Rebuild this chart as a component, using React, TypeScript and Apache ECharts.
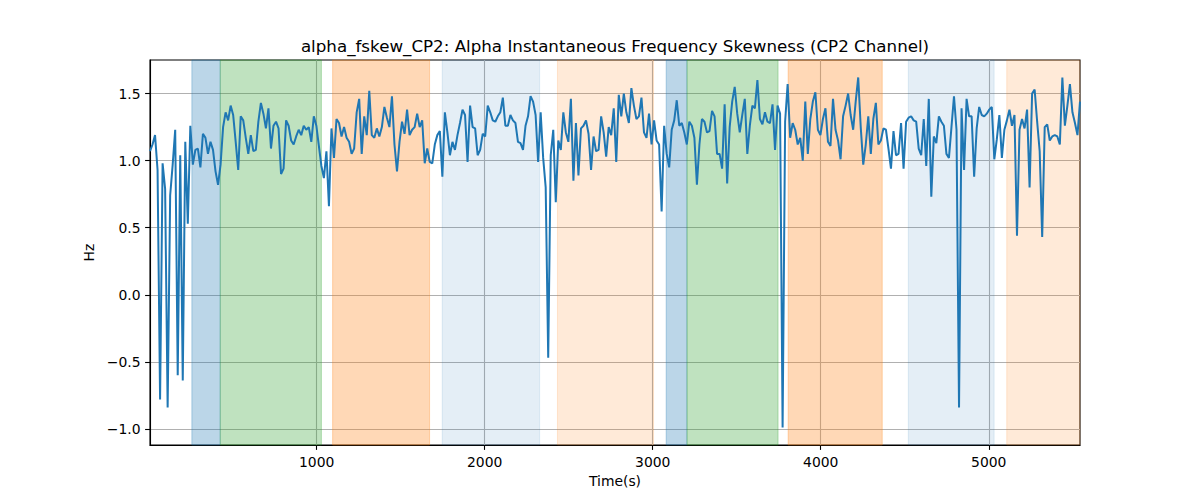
import React, { useEffect, useRef } from 'react';
import * as echarts from 'echarts';

const TITLE = 'alpha_fskew_CP2: Alpha Instantaneous Frequency Skewness (CP2 Channel)';

// samples are taken every DT seconds starting at T0
const T0 = 8;
const DT = 15;

const skewValues: number[] = [
  1.07, 1.12, 1.19, 0.93, -0.78, 0.98, 0.79, -0.84, 0.74, 0.97,
  1.23, -0.6, 1.04, -0.64, 1.14, 0.53, 1.26, 0.97, 1.08, 1.09,
  0.95, 1.2, 1.17, 1.05, 1.14, 1.08, 0.92, 0.82, 0.97, 1.25,
  1.36, 1.3, 1.41, 1.34, 1.14, 0.93, 1.33, 1.3, 1.17, 1.05,
  1.19, 1.07, 1.08, 1.29, 1.43, 1.35, 1.24, 1.39, 1.09, 1.26,
  1.29, 1.24, 0.9, 0.94, 1.3, 1.26, 1.15, 1.12, 1.18, 1.23,
  1.19, 1.26, 1.23, 1.25, 1.14, 1.33, 1.26, 1.11, 0.96, 0.87,
  1.07, 0.66, 1.24, 1.02, 1.31, 1.28, 1.18, 1.25, 1.17, 1.14,
  1.05, 1.09, 1.36, 1.46, 1.05, 1.33, 1.19, 1.52, 1.19, 1.17,
  1.24, 1.18, 1.25, 1.4, 1.32, 1.25, 1.48, 1.12, 0.92, 1.14,
  1.29, 1.2, 1.38, 1.19, 1.23, 1.25, 1.35, 1.25, 1.3, 0.98,
  1.09, 0.99, 0.98, 1.12, 1.19, 1.22, 0.88, 1.36, 1.21, 1.04,
  1.14, 1.08, 1.19, 1.28, 1.38, 1.34, 0.99, 1.41, 1.25, 1.24,
  1.04, 1.08, 1.2, 1.18, 1.41, 1.36, 1.3, 1.29, 1.33, 1.36,
  1.47, 1.26, 1.26, 1.34, 1.3, 1.28, 1.14, 1.13, 1.08, 1.26,
  1.33, 1.48, 1.44, 1.34, 0.99, 1.36, 1.02, 0.8, -0.47, 1.04,
  1.23, 0.69, 1.15, 1.08, 1.36, 1.21, 1.14, 1.46, 0.85, 1.28,
  0.89, 1.24, 1.26, 1.3, 1.2, 0.93, 1.18, 1.07, 1.08, 1.33,
  1.21, 1.03, 1.25, 1.19, 1.39, 0.99, 1.49, 1.33, 1.5, 1.36,
  1.28, 1.54, 1.41, 1.31, 1.33, 1.47, 1.21, 1.17, 1.35, 1.12,
  1.3, 1.15, 1.12, 0.62, 1.26, 1.05, 0.95, 1.23, 1.3, 1.45,
  1.26, 1.28, 1.21, 1.12, 1.29, 1.26, 1.17, 0.82, 1.12, 1.31,
  1.29, 1.21, 1.22, 1.37, 1.33, 1.05, 1.05, 0.94, 1.42, 0.83,
  1.25, 1.44, 1.55, 1.35, 1.21, 1.34, 1.46, 1.05, 1.26, 1.41,
  1.39, 1.6, 1.31, 1.27, 1.36, 1.29, 1.28, 1.42, 1.08, 1.41,
  1.35, -0.99, 1.29, 1.57, 1.17, 1.28, 1.23, 1.12, 1.17, 1.0,
  1.44, 1.05, 1.31, 1.44, 1.51, 1.23, 1.19, 1.31, 1.39, 1.14,
  1.11, 1.46, 1.23, 1.15, 1.01, 1.33, 1.41, 1.5, 1.34, 1.23,
  1.44, 1.62, 1.25, 0.97, 1.12, 1.33, 1.05, 1.31, 1.43, 1.12,
  1.15, 1.24, 1.23, 1.09, 0.94, 1.22, 1.04, 1.05, 1.28, 0.94,
  1.29, 1.32, 1.33, 1.3, 1.29, 1.09, 1.04, 1.31, 0.96, 1.46,
  0.73, 1.18, 1.13, 1.33, 1.29, 1.26, 1.05, 1.02, 1.25, 1.48,
  1.23, -0.84, 1.39, 0.93, 1.46, 1.33, 1.33, 0.88, 1.24, 1.4,
  1.34, 1.33, 1.35, 1.38, 1.4, 1.01, 1.16, 1.34, 1.02, 1.23,
  1.3, 1.38, 1.26, 1.34, 0.44, 1.23, 1.31, 1.24, 1.38, 0.8,
  1.5, 1.53, 1.29, 1.07, 0.43, 1.25, 1.27, 1.15, 1.18, 1.19,
  1.18, 1.12, 1.62, 1.26, 1.41, 1.57, 1.36, 1.28, 1.19, 1.44,
];

const T_MAX = T0 + (skewValues.length - 1) * DT;

// shaded phases
const spanStarts = [257, 426, 1095, 1747, 2433, 3080, 3204, 3806, 4521, 5107];
const spanEnds = [426, 1028, 1672, 2327, 3005, 3204, 3746, 4366, 5032, T_MAX];
const spanKinds = ['blue', 'green', 'orange', 'paleBlue', 'paleOrange', 'blue', 'green', 'orange', 'paleBlue', 'paleOrange'];

const yTicks = [-1, -0.5, 0, 0.5, 1, 1.5];
const xTicks = [1000, 2000, 3000, 4000, 5000];

const kindColor: Record<string, string> = {
  blue: 'rgba(31,119,180,0.3)',
  green: 'rgba(44,160,44,0.3)',
  orange: 'rgba(255,127,14,0.3)',
  paleBlue: 'rgba(31,119,180,0.12)',
  paleOrange: 'rgba(255,127,14,0.16)',
};

const FONT = 'DejaVu Sans';
const LABEL_SIZE = 13.9;

export default function App() {
  const chartRef = useRef<HTMLDivElement | null>(null);

  useEffect(() => {
    document.body.style.margin = '0';
    if (!chartRef.current) return;
    const chart = echarts.init(chartRef.current, undefined, { renderer: 'svg' });

    const lineData = skewValues.map((v, i) => [T0 + i * DT, v]);
    const areas = spanStarts.map((s, i) => {
      const c = kindColor[spanKinds[i]];
      return [
        { xAxis: s, itemStyle: { color: c, borderColor: c, borderWidth: 1 } },
        { xAxis: spanEnds[i] },
      ];
    });

    const fmtY = (v: number) => (v < 0 ? '\u2212' : '') + Math.abs(v).toFixed(1);
    const fmtX = (v: number) => String(Math.round(v));

    chart.setOption({
      animation: false,
      backgroundColor: '#fff',
      textStyle: { fontFamily: FONT },
      grid: {
        left: 150,
        top: 60,
        width: 930,
        height: 385,
        show: true,
        borderColor: '#000',
        borderWidth: 1.1,
        backgroundColor: 'transparent',
      },
      graphic: [
        {
          type: 'text',
          x: 615,
          y: 46,
          style: {
            text: TITLE,
            align: 'center',
            verticalAlign: 'middle',
            fontFamily: FONT,
            fontSize: 16.7,
            fill: '#000',
          },
        },
      ],
      xAxis: {
        type: 'value',
        min: T0,
        max: T_MAX,
        name: 'Time(s)',
        nameLocation: 'middle',
        nameGap: 29,
        nameTextStyle: { fontFamily: FONT, fontSize: LABEL_SIZE, color: '#000' },
        axisLine: { show: true, onZero: false, lineStyle: { color: '#000', width: 1.1 } },
        axisTick: { show: true, length: 4.9, customValues: xTicks, lineStyle: { color: '#000', width: 1.1 } },
        axisLabel: {
          customValues: xTicks,
          margin: 9.5,
          fontFamily: FONT,
          fontSize: LABEL_SIZE,
          color: '#000',
          formatter: fmtX,
        },
        splitLine: { show: true, lineStyle: { color: '#b0b0b0', width: 1.1 } },
      },
      yAxis: {
        type: 'value',
        min: -1.12,
        max: 1.75,
        name: 'Hz',
        nameLocation: 'middle',
        nameGap: 50,
        nameTextStyle: { fontFamily: FONT, fontSize: LABEL_SIZE, color: '#000' },
        axisLine: { show: true, lineStyle: { color: '#000', width: 1.1 } },
        axisTick: { show: true, length: 4.9, customValues: yTicks, lineStyle: { color: '#000', width: 1.1 } },
        axisLabel: {
          customValues: yTicks,
          margin: 9.5,
          fontFamily: FONT,
          fontSize: LABEL_SIZE,
          color: '#000',
          formatter: fmtY,
        },
        splitLine: { show: true, lineStyle: { color: '#b0b0b0', width: 1.1 } },
      },
      series: [
        {
          type: 'line',
          data: [],
          z: 1,
          silent: true,
          markArea: { silent: true, data: areas },
        },
        {
          type: 'line',
          data: lineData,
          z: 3,
          showSymbol: false,
          symbol: 'none',
          lineStyle: { color: '#1f77b4', width: 2 },
          silent: true,
        },
      ],
    });

    return () => {
      chart.dispose();
    };
  }, []);

  return <div ref={chartRef} style={{ width: 1200, height: 500 }} />;
}
